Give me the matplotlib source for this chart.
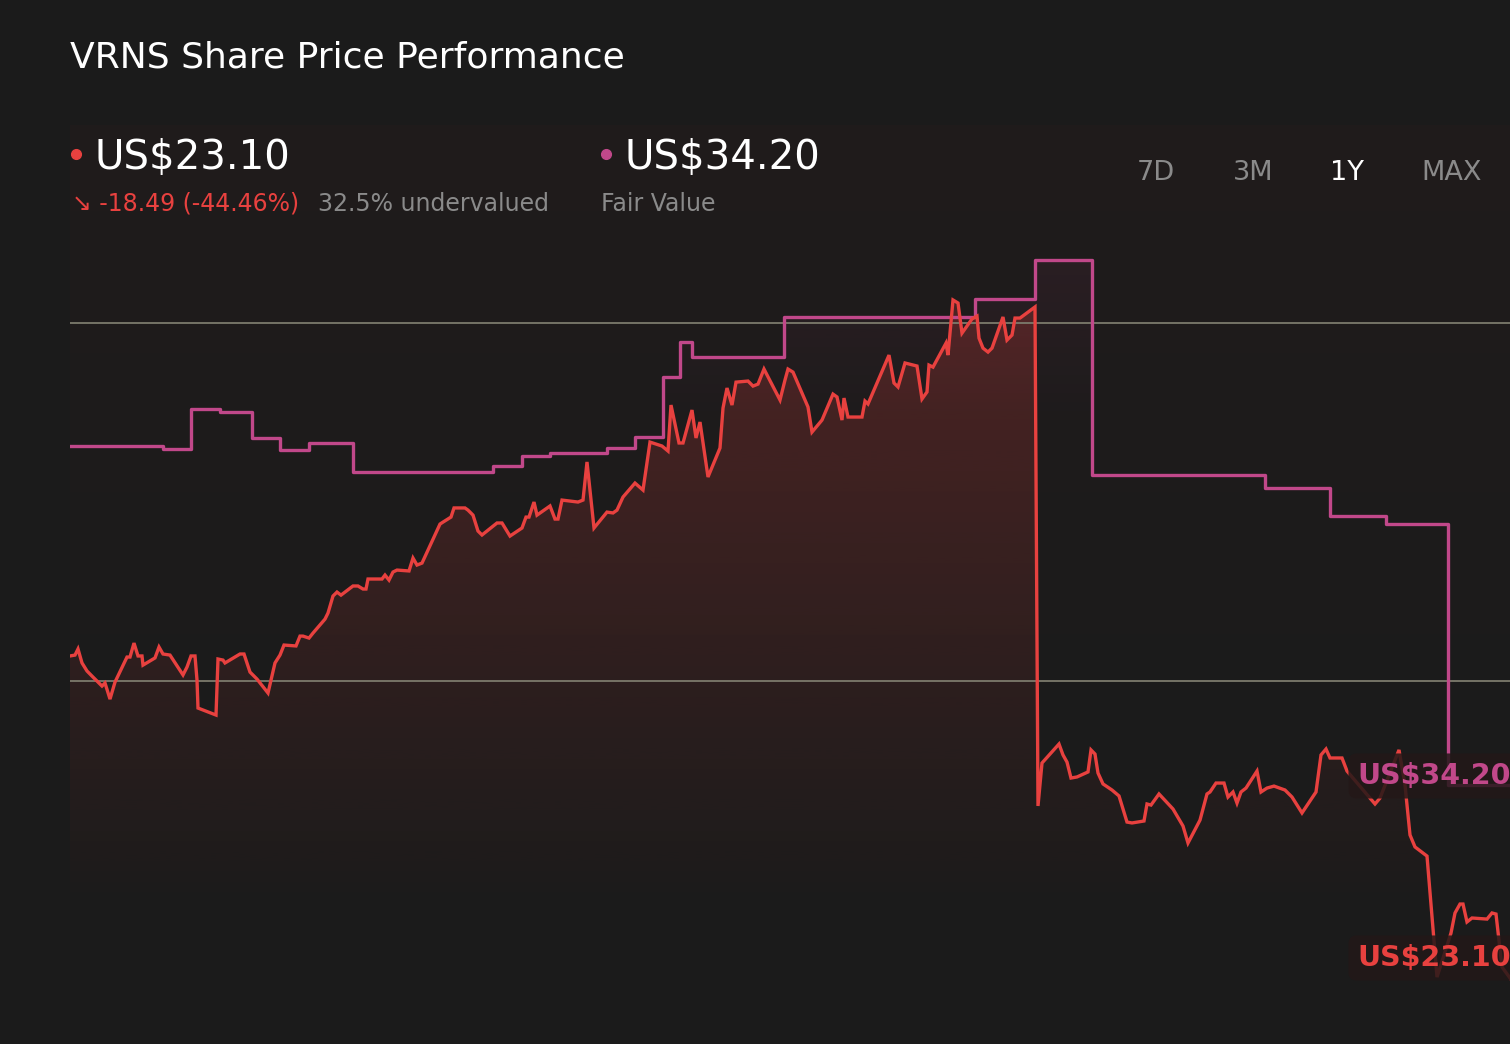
import numpy as np
import matplotlib
matplotlib.use("Agg")
import matplotlib.pyplot as plt
from matplotlib.lines import Line2D

plt.rcParams['font.family'] = ['DejaVu Sans']

# ---- data (days since start of the 1Y window, US$) ----
price_days = [0, 1.25, 2, 3, 4.25, 5.75, 8, 8.75, 10, 11.25, 14.25, 15, 16, 17, 18, 18.25,
              21.25, 22.25, 23.25, 25, 28.25, 29.25, 30.25, 31.25, 31.75, 32, 36.5, 37,
              38.25, 38.75, 42.5, 43.5, 45, 46.75, 49.5, 51.25, 52.5, 53.5, 56.5, 57.5,
              58.25, 59.75, 60.75, 63.75, 64.5, 65.75, 66.75, 67.75, 70.75, 72, 73.25, 74,
              74.5, 78, 78.75, 79.75, 80.75, 81.75, 84.75, 85.75, 86.75, 88, 89.5, 92.5,
              93.25, 95.25, 96, 98.75, 99.5, 100.75, 102, 103, 106.75, 108, 110, 113, 114,
              114.75, 116, 116.75, 120, 121.25, 122, 123, 127, 128.25, 129.25, 131, 134.25,
              135.75, 136.75, 138.25, 141.25, 143.25, 145, 148, 149.5, 150.25, 152.25,
              153.25, 155.5, 156.5, 157.5, 159.5, 162.5, 163.25, 164.25, 165.5, 166.5,
              169.5, 170.75, 172, 173.5, 177.5, 178.75, 179.5, 180.75, 184.5, 185.5, 188,
              190.75, 191.75, 193, 193.5, 194.5, 198, 198.75, 199.5, 204.75, 206, 207,
              208.75, 211.75, 213, 214.25, 214.75, 215.75, 219, 219.5, 220.75, 222, 223,
              225.5, 226.75, 227.25, 228.25, 229.5, 230.5, 233.25, 234.25, 235.5, 236.25,
              237.5, 241.25, 242, 243, 247.25, 248.25, 249.25, 250.25, 251.75, 254.5,
              255.25, 256.25, 257, 258.25, 260.5, 262.25, 264.25, 265.5, 268.5, 269.25,
              270.25, 272.25, 275.75, 278.25, 279.5, 282.5, 284.25, 285, 286.5, 288.5,
              289.5, 290.75, 291.75, 292.75, 294, 296.75, 297.75, 299.25, 301, 303.75,
              305.5, 308, 311.5, 312.75, 314, 315, 318, 319.25, 326.25, 327.5, 332.25,
              333.75, 335, 336.25, 339.25, 341.75, 345.25, 346.25, 347.5, 348.25, 349.25,
              350.5, 354.25, 355.5, 356.5, 358, 361]
price = [41.40, 41.45, 41.79, 41.01, 40.56, 40.22, 39.72, 39.89, 38.99, 39.94, 41.34, 41.34,
         42.12, 41.40, 41.40, 40.89, 41.29, 41.90, 41.51, 41.45, 40.34, 40.78, 41.40, 41.40,
         40.06, 38.49, 38.10, 41.23, 41.17, 41.01, 41.51, 41.51, 40.50, 40.11, 39.33, 41.01,
         41.45, 42.01, 41.96, 42.51, 42.51, 42.40, 42.68, 43.46, 43.80, 44.75, 44.97, 44.80,
         45.31, 45.31, 45.14, 45.14, 45.70, 45.70, 45.92, 45.64, 46.09, 46.20, 46.15, 46.87,
         46.48, 46.59, 47.32, 48.77, 48.88, 49.16, 49.67, 49.67, 49.55, 49.27, 48.38, 48.16,
         48.83, 48.83, 48.10, 48.55, 49.16, 49.16, 50.00, 49.27, 49.78, 49.05, 49.05, 50.11,
         50.00, 50.11, 52.24, 48.55, 49.44, 49.39, 49.55, 50.28, 51.06, 50.67, 53.35, 53.13,
         52.85, 55.42, 53.30, 53.30, 55.14, 53.58, 54.47, 51.40, 53.02, 55.25, 56.37, 55.42,
         56.70, 56.76, 56.48, 56.59, 57.43, 55.70, 56.82, 57.43, 57.26, 55.31, 53.91, 54.58,
         56.03, 55.87, 54.58, 55.81, 54.75, 54.75, 55.64, 55.48, 58.21, 56.65, 56.43, 57.77,
         57.60, 55.76, 56.15, 57.65, 57.54, 58.88, 58.21, 61.29, 61.12, 59.44, 60.23, 60.39,
         59.16, 58.60, 58.38, 58.60, 60.34, 59.05, 59.33, 60.28, 60.28, 60.90, 33.02, 35.42,
         36.48, 35.87, 35.47, 34.58, 34.64, 34.92, 36.15, 35.92, 34.86, 34.25, 33.91, 33.58,
         32.12, 32.07, 32.18, 33.13, 33.07, 33.69, 32.85, 31.90, 30.95, 32.23, 33.69, 33.80,
         34.30, 34.30, 33.52, 33.80, 33.18, 33.80, 34.02, 34.97, 33.80, 34.02, 34.13, 33.91,
         33.52, 32.63, 33.80, 35.87, 36.20, 35.70, 35.70, 34.97, 33.13, 33.46, 36.15, 34.19,
         31.40, 30.73, 30.22, 23.46, 25.92, 27.04, 27.54, 27.54, 26.54, 26.76, 26.70, 27.04,
         26.98, 24.02, 23.10]

fair_days = [0, 23.25, 30.25, 37.5, 45.5, 52.5, 59.75, 70.75, 105.75, 113, 120, 134.25,
             141.25, 148.25, 152.5, 155.5, 178.5, 226.25, 241.25, 255.5, 298.75, 315, 329,
             344.5, 361]
fair_value = [53.13, 52.96, 55.20, 55.03, 53.58, 52.91, 53.30, 51.68, 52.01, 52.57, 52.74,
              53.02, 53.63, 56.98, 58.94, 58.10, 60.34, 61.34, 63.52, 51.51, 50.78, 49.22,
              48.77, 34.20, 34.20]

grid_levels = [40, 60]
periods = ['7D', '3M', '1Y', 'MAX']
active_period = '1Y'

BG = '#1b1b1b'
RED = '#e8413f'
PINK = '#c1488a'
GREY = '#8a8a8a'

W, H = 1510, 1044
fig = plt.figure(figsize=(W / 100, H / 100), dpi=100, facecolor=BG)


def fx(x):
    return x / W


def fy(y):
    return 1 - y / H


# faint panel behind the header/chart
bg = fig.add_axes([fx(70), fy(915), fx(1440), (915 - 125) / H], zorder=0)
bg.axis('off')
panel = np.zeros((256, 1, 4))
panel[..., :3] = matplotlib.colors.to_rgb(RED)
panel[..., 3] = np.linspace(0.022, 0.0, 256)[:, None]
bg.imshow(panel, aspect='auto', extent=[0, 1, 0, 1], origin='upper')
bg.set_xlim(0, 1)
bg.set_ylim(0, 1)

ax = fig.add_axes([fx(70), 0, fx(1440), (H - 230) / H], zorder=1)
ax.set_facecolor('none')
y_lo, y_hi = 19.72, 65.2
ax.set_xlim(0, 360)
ax.set_ylim(y_lo, y_hi)
ax.axis('off')

for g in grid_levels:
    ax.axhline(g, color='#7c7b6c', lw=1.3, zorder=2)


def gradient_under(xs, ys, color, top_alpha, fade_to, step=None):
    grad = np.zeros((256, 1, 4))
    grad[..., :3] = matplotlib.colors.to_rgb(color)
    grad[..., 3] = np.linspace(top_alpha, 0.0, 256)[:, None]
    im = ax.imshow(grad, aspect='auto', extent=[0, 361, fade_to, y_hi],
                   origin='upper', zorder=1.5)
    poly = ax.fill_between(xs, ys, y_lo, step=step, color='none', lw=0)
    im.set_clip_path(poly.get_paths()[0], transform=ax.transData)


gradient_under(fair_days, fair_value, PINK, 0.09, 53.5, step='post')
gradient_under(price_days, price, RED, 0.26, 27)

ax.step(fair_days, fair_value, where='post', color=PINK, lw=2.4, zorder=3)
ax.plot(price_days, price, color=RED, lw=2.4, zorder=4, solid_joinstyle='miter')

# value tags at the right edge
tag_box = dict(boxstyle='round,pad=0.3', fc='#231818', ec='none', alpha=0.85)
fig.text(fx(1357), fy(776), 'US$34.20', color=PINK, fontsize=20.5, fontweight='bold',
         va='center', ha='left', zorder=5, bbox=tag_box)
fig.text(fx(1357), fy(958), 'US$23.10', color=RED, fontsize=20.5, fontweight='bold',
         va='center', ha='left', zorder=5, bbox=tag_box)

# header
fig.text(fx(70), fy(68), 'VRNS Share Price Performance', color='white', fontsize=26,
         va='baseline', ha='left')

fig.add_artist(Line2D([fx(76)], [fy(154)], marker='o', ms=7, color=RED, lw=0,
                      transform=fig.transFigure))
fig.text(fx(94), fy(169), 'US$23.10', color='white', fontsize=29, va='baseline', ha='left')
fig.text(fx(72), fy(211), '\u2198 -18.49 (-44.46%)', color=RED, fontsize=17,
         va='baseline', ha='left')
fig.text(fx(318), fy(211), '32.5% undervalued', color=GREY, fontsize=17,
         va='baseline', ha='left')

fig.add_artist(Line2D([fx(606)], [fy(154)], marker='o', ms=7, color=PINK, lw=0,
                      transform=fig.transFigure))
fig.text(fx(625), fy(169), 'US$34.20', color='white', fontsize=29, va='baseline', ha='left')
fig.text(fx(601), fy(211), 'Fair Value', color=GREY, fontsize=17, va='baseline', ha='left')

for label, xc in zip(periods, [1156, 1253, 1347, 1452]):
    fig.text(fx(xc), fy(180), label, color='white' if label == active_period else GREY,
             fontsize=19.5, va='baseline', ha='center')

fig.savefig('out.png', dpi=100, facecolor=BG)
